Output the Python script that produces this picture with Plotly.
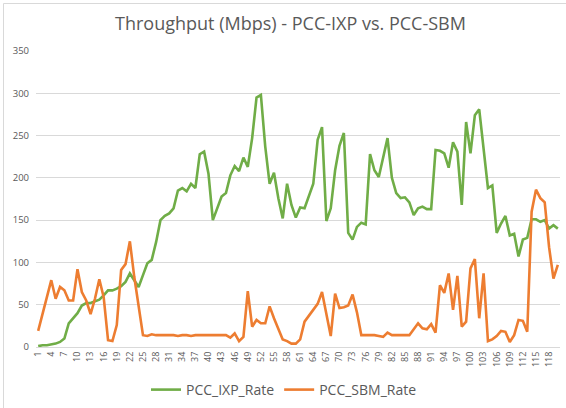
import plotly.graph_objects as go

categories = [str(i) for i in range(1, 121)]

pcc_ixp_rate = [
    1, 2, 2, 3, 4, 6, 10, 28, 34, 40,
    49, 52, 52, 54, 56, 61, 67, 67, 69, 72,
    77, 87, 79, 71, 85, 99, 103, 124, 150, 155,
    158, 164, 185, 188, 184, 193, 188, 228, 231, 205,
    150, 164, 178, 182, 203, 214, 208, 224, 213, 247,
    295, 298, 237, 193, 206, 176, 152, 193, 168, 153,
    165, 164, 178, 193, 245, 260, 149, 164, 209, 238,
    253, 135, 127, 142, 147, 145, 228, 209, 201, 225,
    247, 200, 182, 176, 177, 171, 156, 164, 166, 163,
    163, 233, 232, 229, 212, 242, 231, 168, 266, 229,
    274, 281, 235, 188, 191, 135, 146, 155, 132, 134,
    107, 127, 129, 151, 151, 148, 150, 140, 144, 140,
]

pcc_sbm_rate = [
    19, 39, 59, 79, 57, 71, 67, 55, 55, 92,
    65, 55, 39, 57, 80, 59, 8, 7, 26, 91,
    98, 125, 83, 51, 14, 13, 15, 14, 14, 14,
    14, 14, 13, 14, 14, 13, 14, 14, 14, 14,
    14, 14, 14, 14, 11, 16, 7, 12, 66, 24,
    32, 28, 28, 48, 34, 21, 9, 7, 4, 4,
    9, 30, 37, 45, 51, 65, 39, 13, 63, 46,
    47, 49, 62, 41, 14, 14, 14, 14, 13, 12,
    17, 14, 14, 14, 14, 14, 21, 28, 22, 21,
    27, 17, 73, 64, 87, 44, 84, 24, 30, 93,
    104, 34, 87, 7, 9, 13, 19, 18, 6, 14,
    32, 31, 18, 160, 186, 176, 171, 118, 81, 97,
]

x_tick_labels = categories[::3]
y_ticks = [0, 50, 100, 150, 200, 250, 300, 350]

FONT = "Open Sans"
GREY = "#595959"

# plot area in pixels
L, T, W, H = 36, 51, 524, 296

def px_x(p):
    return (p - L) / W

def px_y(p):
    return (T + H - p) / H

fig = go.Figure()
fig.add_trace(go.Scatter(
    x=categories, y=pcc_ixp_rate, mode="lines", name="PCC_IXP_Rate",
    line=dict(color="#70AD47", width=2.6),
))
fig.add_trace(go.Scatter(
    x=categories, y=pcc_sbm_rate, mode="lines", name="PCC_SBM_Rate",
    line=dict(color="#ED7D31", width=2.6),
))

fig.update_layout(
    width=566, height=408,
    margin=dict(l=L, r=566 - L - W, t=T, b=408 - T - H, autoexpand=False),
    paper_bgcolor="white", plot_bgcolor="white",
    font=dict(family=FONT, color=GREY),
    title=dict(
        text="Throughput (Mbps) - PCC-IXP vs. PCC-SBM",
        x=290.5 / 566, xanchor="center", y=1 - 24 / 408, yanchor="middle",
        font=dict(size=18, color=GREY, family=FONT),
    ),
    showlegend=True,
    legend=dict(
        orientation="h", x=px_x(284), xanchor="center", y=px_y(390), yanchor="middle",
        font=dict(size=14, color=GREY, family=FONT),
        tracegroupgap=0,
    ),
    xaxis=dict(
        type="category", automargin=False,
        tickmode="array", tickvals=x_tick_labels, ticktext=x_tick_labels,
        tickangle=-90, tickfont=dict(size=9, color=GREY),
        showgrid=False, showline=True, linecolor="#d9d9d9", linewidth=1,
        ticks="", range=[-0.5, len(categories) - 0.5],
    ),
    yaxis=dict(
        range=[0, 350], tickvals=y_ticks, automargin=False,
        showgrid=True, gridcolor="#d9d9d9", gridwidth=1,
        zeroline=False, showline=False,
        tickfont=dict(size=9.5, color=GREY),
        ticklabelstandoff=6,
    ),
    shapes=[
        dict(type="line", xref="paper", yref="paper",
             x0=px_x(3.5), x1=px_x(570), y0=px_y(3.5), y1=px_y(3.5),
             line=dict(color="#d9d9d9", width=1), layer="above"),
        dict(type="line", xref="paper", yref="paper",
             x0=px_x(3.5), x1=px_x(3.5), y0=px_y(3.5), y1=px_y(412),
             line=dict(color="#d9d9d9", width=1), layer="above"),
    ],
)

fig.write_html(
    "out.html",
    config={"displayModeBar": False},
    post_script="document.body.style.margin='0';",
)
